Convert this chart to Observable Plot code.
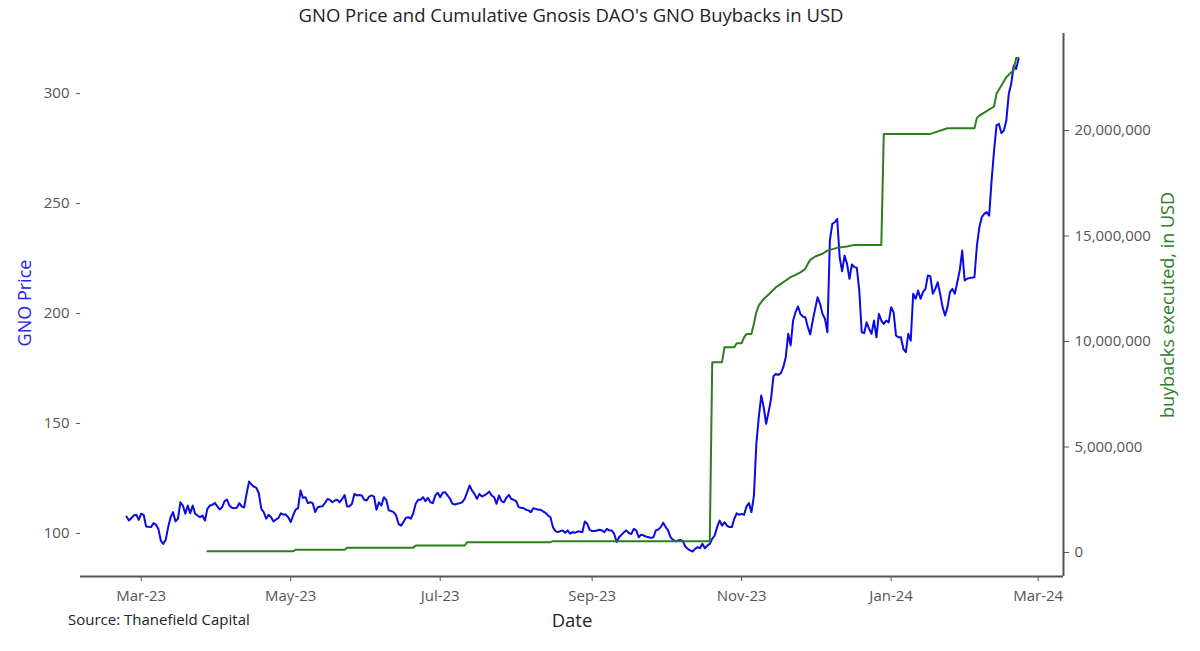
<!DOCTYPE html>
<html><head><meta charset="utf-8">
<script src="https://cdn.jsdelivr.net/npm/d3@7"></script>
<script src="https://cdn.jsdelivr.net/npm/@observablehq/plot@0.6"></script>
<style>
html,body{margin:0;padding:0;background:#fff;}
#chart svg{display:block;}
</style></head><body><div id="chart"></div>
<script>
// GNO price in USD
const gnoPrice = [
["2023-02-23",107.7],["2023-02-24",105.9],["2023-02-26",108.2],["2023-02-27",108.5],["2023-02-28",106.2],
["2023-03-01",109.0],["2023-03-02",108.5],["2023-03-03",103.2],["2023-03-05",102.9],["2023-03-06",104.7],
["2023-03-07",104.0],["2023-03-08",102.1],["2023-03-09",96.8],["2023-03-10",95.3],["2023-03-11",97.1],
["2023-03-12",102.9],["2023-03-13",107.4],["2023-03-14",109.7],["2023-03-15",105.5],["2023-03-16",106.7],
["2023-03-17",114.2],["2023-03-18",112.7],["2023-03-19",109.0],["2023-03-20",112.7],["2023-03-21",109.2],
["2023-03-22",112.7],["2023-03-23",109.0],["2023-03-24",108.2],["2023-03-25",107.4],["2023-03-26",108.2],
["2023-03-27",105.9],["2023-03-28",111.2],["2023-03-29",112.7],["2023-03-30",113.0],["2023-03-31",113.9],
["2023-04-01",112.4],["2023-04-02",110.9],["2023-04-03",111.9],["2023-04-04",114.7],["2023-04-05",115.4],
["2023-04-06",112.7],["2023-04-07",111.7],["2023-04-08",111.5],["2023-04-09",111.7],["2023-04-10",113.8],
["2023-04-11",112.3],["2023-04-12",111.9],["2023-04-13",118.0],["2023-04-14",123.6],["2023-04-15",122.3],
["2023-04-16",121.3],["2023-04-17",120.7],["2023-04-18",118.3],["2023-04-19",111.2],["2023-04-20",109.7],
["2023-04-21",106.7],["2023-04-22",108.5],["2023-04-23",107.4],["2023-04-24",105.5],["2023-04-25",106.4],
["2023-04-26",107.0],["2023-04-27",109.2],["2023-04-28",108.6],["2023-04-29",108.6],["2023-04-30",107.4],
["2023-05-01",105.2],["2023-05-02",108.2],["2023-05-03",110.9],["2023-05-04",111.5],["2023-05-05",119.5],
["2023-05-06",116.2],["2023-05-07",116.5],["2023-05-08",113.8],["2023-05-09",114.2],["2023-05-10",113.8],
["2023-05-11",109.7],["2023-05-12",111.9],["2023-05-13",112.3],["2023-05-14",112.4],["2023-05-15",113.9],
["2023-05-16",115.7],["2023-05-17",115.3],["2023-05-18",114.2],["2023-05-19",115.0],["2023-05-20",115.3],
["2023-05-21",114.2],["2023-05-22",115.7],["2023-05-23",117.5],["2023-05-24",112.3],["2023-05-25",112.4],
["2023-05-26",113.5],["2023-05-27",118.0],["2023-05-28",117.3],["2023-05-29",117.5],["2023-05-30",117.3],
["2023-05-31",115.3],["2023-06-01",115.0],["2023-06-02",116.8],["2023-06-03",117.3],["2023-06-04",116.8],
["2023-06-05",110.8],["2023-06-06",114.2],["2023-06-07",112.7],["2023-06-08",116.5],["2023-06-09",115.3],
["2023-06-10",110.5],["2023-06-11",110.2],["2023-06-12",109.7],["2023-06-13",108.2],["2023-06-14",104.4],
["2023-06-15",103.6],["2023-06-16",105.2],["2023-06-17",107.1],["2023-06-18",107.4],["2023-06-19",106.7],
["2023-06-20",109.2],["2023-06-21",113.5],["2023-06-22",115.3],["2023-06-23",115.3],["2023-06-24",116.5],
["2023-06-25",114.7],["2023-06-26",116.2],["2023-06-27",114.2],["2023-06-28",113.8],["2023-06-29",117.3],
["2023-06-30",118.5],["2023-07-01",116.5],["2023-07-02",118.5],["2023-07-03",118.8],["2023-07-04",117.3],
["2023-07-05",115.8],["2023-07-06",113.5],["2023-07-07",113.2],["2023-07-08",113.5],["2023-07-09",113.8],
["2023-07-10",114.2],["2023-07-11",115.8],["2023-07-12",118.8],["2023-07-13",121.8],["2023-07-14",119.5],
["2023-07-15",118.0],["2023-07-16",115.8],["2023-07-17",118.0],["2023-07-18",116.8],["2023-07-19",117.3],
["2023-07-20",118.0],["2023-07-21",119.1],["2023-07-22",117.3],["2023-07-23",116.5],["2023-07-24",113.5],
["2023-07-25",117.3],["2023-07-26",114.7],["2023-07-27",114.2],["2023-07-28",116.2],["2023-07-29",117.6],
["2023-07-30",115.8],["2023-07-31",115.3],["2023-08-01",114.7],["2023-08-02",112.0],["2023-08-03",111.7],
["2023-08-04",111.5],["2023-08-05",110.8],["2023-08-06",110.5],["2023-08-07",109.7],["2023-08-08",111.5],
["2023-08-09",111.2],["2023-08-10",110.8],["2023-08-11",110.8],["2023-08-12",110.0],["2023-08-13",109.4],
["2023-08-14",108.2],["2023-08-15",107.4],["2023-08-16",102.9],["2023-08-17",101.1],["2023-08-18",100.6],
["2023-08-19",101.1],["2023-08-20",101.4],["2023-08-21",100.3],["2023-08-22",101.4],["2023-08-23",99.9],
["2023-08-24",100.6],["2023-08-25",100.3],["2023-08-26",100.9],["2023-08-27",100.9],["2023-08-28",100.6],
["2023-08-29",105.5],["2023-08-30",104.4],["2023-08-31",101.7],["2023-09-01",101.1],["2023-09-02",101.1],
["2023-09-03",101.4],["2023-09-04",101.7],["2023-09-05",101.4],["2023-09-06",100.6],["2023-09-07",102.1],
["2023-09-08",101.4],["2023-09-09",101.4],["2023-09-10",99.8],["2023-09-11",96.1],["2023-09-12",98.3],
["2023-09-13",99.5],["2023-09-14",100.6],["2023-09-15",101.4],["2023-09-16",100.2],["2023-09-17",99.8],
["2023-09-18",102.1],["2023-09-19",101.4],["2023-09-20",98.3],["2023-09-21",99.5],["2023-09-22",99.1],
["2023-09-23",98.6],["2023-09-24",98.3],["2023-09-25",98.0],["2023-09-26",98.3],["2023-09-27",101.4],
["2023-09-28",101.8],["2023-09-29",102.9],["2023-09-30",104.9],["2023-10-01",102.9],["2023-10-02",101.4],
["2023-10-03",98.3],["2023-10-04",97.1],["2023-10-05",96.4],["2023-10-06",96.8],["2023-10-07",97.1],
["2023-10-08",96.5],["2023-10-09",94.1],["2023-10-10",93.0],["2023-10-11",92.3],["2023-10-12",91.8],
["2023-10-13",93.0],["2023-10-14",93.8],["2023-10-15",93.3],["2023-10-16",95.3],["2023-10-17",93.3],
["2023-10-18",94.5],["2023-10-19",95.3],["2023-10-20",97.6],["2023-10-21",99.1],["2023-10-22",102.9],
["2023-10-23",105.9],["2023-10-24",103.6],["2023-10-25",105.1],["2023-10-26",103.6],["2023-10-27",102.9],
["2023-10-28",102.9],["2023-10-29",106.7],["2023-10-30",109.2],["2023-10-31",108.5],["2023-11-01",108.9],
["2023-11-02",108.5],["2023-11-03",112.3],["2023-11-04",113.8],["2023-11-05",109.7],["2023-11-06",117.0],
["2023-11-07",140.7],["2023-11-08",152.9],["2023-11-09",162.7],["2023-11-10",157.4],["2023-11-11",149.9],
["2023-11-12",155.2],["2023-11-13",161.2],["2023-11-14",171.5],["2023-11-15",172.6],["2023-11-16",172.1],
["2023-11-17",172.9],["2023-11-18",175.6],["2023-11-19",180.1],["2023-11-20",190.8],["2023-11-21",185.5],
["2023-11-22",196.8],["2023-11-23",200.6],["2023-11-24",203.2],["2023-11-25",199.8],["2023-11-26",198.6],
["2023-11-27",198.3],["2023-11-28",193.8],["2023-11-29",190.5],["2023-11-30",196.8],["2023-12-01",202.1],
["2023-12-02",207.4],["2023-12-03",204.4],["2023-12-04",199.8],["2023-12-05",197.6],["2023-12-06",191.5],
["2023-12-07",233.2],["2023-12-08",240.8],["2023-12-09",241.5],["2023-12-10",243.0],["2023-12-11",225.6],
["2023-12-12",219.2],["2023-12-13",226.4],["2023-12-14",222.6],["2023-12-15",215.8],["2023-12-16",222.3],
["2023-12-17",221.1],["2023-12-18",220.8],["2023-12-19",210.5],["2023-12-20",191.5],["2023-12-21",191.1],
["2023-12-22",196.0],["2023-12-23",193.0],["2023-12-24",190.8],["2023-12-25",196.8],["2023-12-26",189.2],
["2023-12-27",199.8],["2023-12-28",196.8],["2023-12-29",195.3],["2023-12-30",196.8],["2023-12-31",196.0],
["2024-01-01",202.9],["2024-01-02",200.6],["2024-01-03",190.0],["2024-01-04",189.2],["2024-01-05",189.2],
["2024-01-06",183.9],["2024-01-07",182.4],["2024-01-08",190.8],["2024-01-09",187.7],["2024-01-10",209.0],
["2024-01-11",206.7],["2024-01-12",210.5],["2024-01-13",206.7],["2024-01-14",209.7],["2024-01-15",211.2],
["2024-01-16",217.3],["2024-01-17",217.0],["2024-01-18",209.0],["2024-01-19",211.2],["2024-01-20",214.2],
["2024-01-21",209.0],["2024-01-22",202.9],["2024-01-23",199.1],["2024-01-24",202.9],["2024-01-25",209.7],
["2024-01-26",211.2],["2024-01-27",209.0],["2024-01-28",214.2],["2024-01-29",219.6],["2024-01-30",228.6],
["2024-01-31",215.0],["2024-02-01",215.8],["2024-02-02",216.1],["2024-02-04",216.5],["2024-02-05",230.9],
["2024-02-06",239.2],["2024-02-07",243.8],["2024-02-08",245.3],["2024-02-09",246.1],["2024-02-10",244.5],
["2024-02-11",260.5],["2024-02-12",274.1],["2024-02-13",285.5],["2024-02-14",286.2],["2024-02-15",282.0],
["2024-02-16",283.2],["2024-02-17",287.7],["2024-02-18",299.9],["2024-02-19",304.4],["2024-02-20",312.7],
["2024-02-21",311.2],["2024-02-22",315.8]
];

// Cumulative Gnosis DAO GNO buybacks, USD
const buybacks = [
["2023-03-28",63000],["2023-05-02",63000],["2023-05-03",126000],["2023-05-23",126000],["2023-05-24",221000],
["2023-06-20",221000],["2023-06-21",332000],["2023-07-11",332000],["2023-07-12",490000],["2023-08-15",490000],
["2023-08-16",537000],["2023-10-19",537000],["2023-10-20",9020000],["2023-10-24",9020000],["2023-10-25",9730000],
["2023-10-29",9730000],["2023-10-30",9920000],["2023-11-01",9920000],["2023-11-02",10200000],["2023-11-03",10360000],
["2023-11-05",10360000],["2023-11-06",10840000],["2023-11-07",11390000],["2023-11-08",11710000],["2023-11-10",12020000],
["2023-11-13",12340000],["2023-11-15",12570000],["2023-11-17",12730000],["2023-11-19",12890000],["2023-11-21",13050000],
["2023-11-23",13160000],["2023-11-25",13280000],["2023-11-27",13450000],["2023-11-28",13680000],["2023-11-29",13870000],
["2023-12-01",14030000],["2023-12-04",14160000],["2023-12-06",14310000],["2023-12-10",14440000],["2023-12-14",14500000],
["2023-12-17",14580000],["2023-12-28",14580000],["2023-12-29",19840000],["2024-01-17",19840000],["2024-01-24",20110000],
["2024-02-04",20110000],["2024-02-05",20600000],["2024-02-06",20710000],["2024-02-12",21140000],["2024-02-13",21740000],
["2024-02-15",22130000],["2024-02-17",22530000],["2024-02-19",22760000],["2024-02-20",22840000],["2024-02-21",23440000],
["2024-02-22",23440000]
];

const monthTicks = ["2023-03-01","2023-05-01","2023-07-01","2023-09-01","2023-11-01","2024-01-01","2024-03-01"];
const priceTicks = [100,150,200,250,300];
const buybackTicks = [0,5000000,10000000,15000000,20000000];
const priceDomain = [80.45, 327.3];
const buybackDomain = [-1138000, 24600000];
const dateDomain = ["2023-02-04T05:30:00Z","2024-03-11T08:00:00Z"];

const BLUE = "#0a0ae8", GREEN = "#2e7d1f", AXIS = "#555", TXT = "#222";
const FONT = "'Open Sans', 'Noto Sans', sans-serif";

const toPrice = d3.scaleLinear().domain(buybackDomain).range(priceDomain);
const toBuy = toPrice.copy().domain(priceDomain).range(buybackDomain);

const priceData = gnoPrice.map(([d, v]) => ({date: new Date(d), value: v}));
const buyData = buybacks.map(([d, v]) => ({date: new Date(d), value: toPrice(v)}));

const plot = Plot.plot({
  width: 1200, height: 651,
  marginTop: 33, marginBottom: 75, marginLeft: 80, marginRight: 137,
  style: {fontFamily: FONT, fontSize: "15px", background: "#fff", color: AXIS},
  x: {type: "utc", domain: dateDomain.map(d => new Date(d))},
  y: {domain: priceDomain},
  marks: [
    Plot.axisX(monthTicks.map(d => new Date(d)), {anchor: "bottom", tickFormat: d3.utcFormat("%b-%y"), tickSize: 5, tickPadding: 9, label: null, stroke: AXIS, fill: AXIS, fontSize: 15}),
    Plot.axisY(priceTicks, {anchor: "left", tickSize: 4, tickPadding: 7, label: null, stroke: "#5050ff", fill: AXIS, fontSize: 15}),
    Plot.axisY(buybackTicks.map(v => toPrice(v)), {anchor: "right", tickSize: 5, tickPadding: 6, label: null, stroke: AXIS, fill: AXIS, fontSize: 15,
      tickFormat: v => d3.format(",")(Math.round(toBuy(v) / 100000) * 100000)}),
    Plot.ruleY([priceDomain[0]], {stroke: AXIS, strokeWidth: 2}),
    Plot.ruleX([new Date(dateDomain[1])], {stroke: AXIS, strokeWidth: 2}),
    Plot.line(priceData, {x: "date", y: "value", stroke: BLUE, strokeWidth: 2}),
    Plot.line(buyData, {x: "date", y: "value", stroke: GREEN, strokeWidth: 2})
  ]
});

const svg = d3.select(plot);
function addText(x, y, str, opts = {}) {
  const t = svg.append("text").attr("x", x).attr("y", y).text(str)
    .attr("font-family", FONT).attr("font-size", opts.size || 18)
    .attr("fill", opts.fill || TXT).attr("text-anchor", opts.anchor || "middle");
  if (opts.rotate) t.attr("transform", `rotate(${opts.rotate},${x},${y})`);
  return t;
}
addText(571, 22, "GNO Price and Cumulative Gnosis DAO's GNO Buybacks in USD", {size: 18.5});
addText(31, 303, "GNO Price", {fill: "#2525f0", rotate: -90});
addText(1174, 305, "buybacks executed, in USD", {fill: GREEN, rotate: -90});
addText(572, 627, "Date", {size: 18.5});
addText(68, 625, "Source: Thanefield Capital", {size: 15, anchor: "start"});

document.getElementById("chart").appendChild(plot);
</script>
</body></html>
